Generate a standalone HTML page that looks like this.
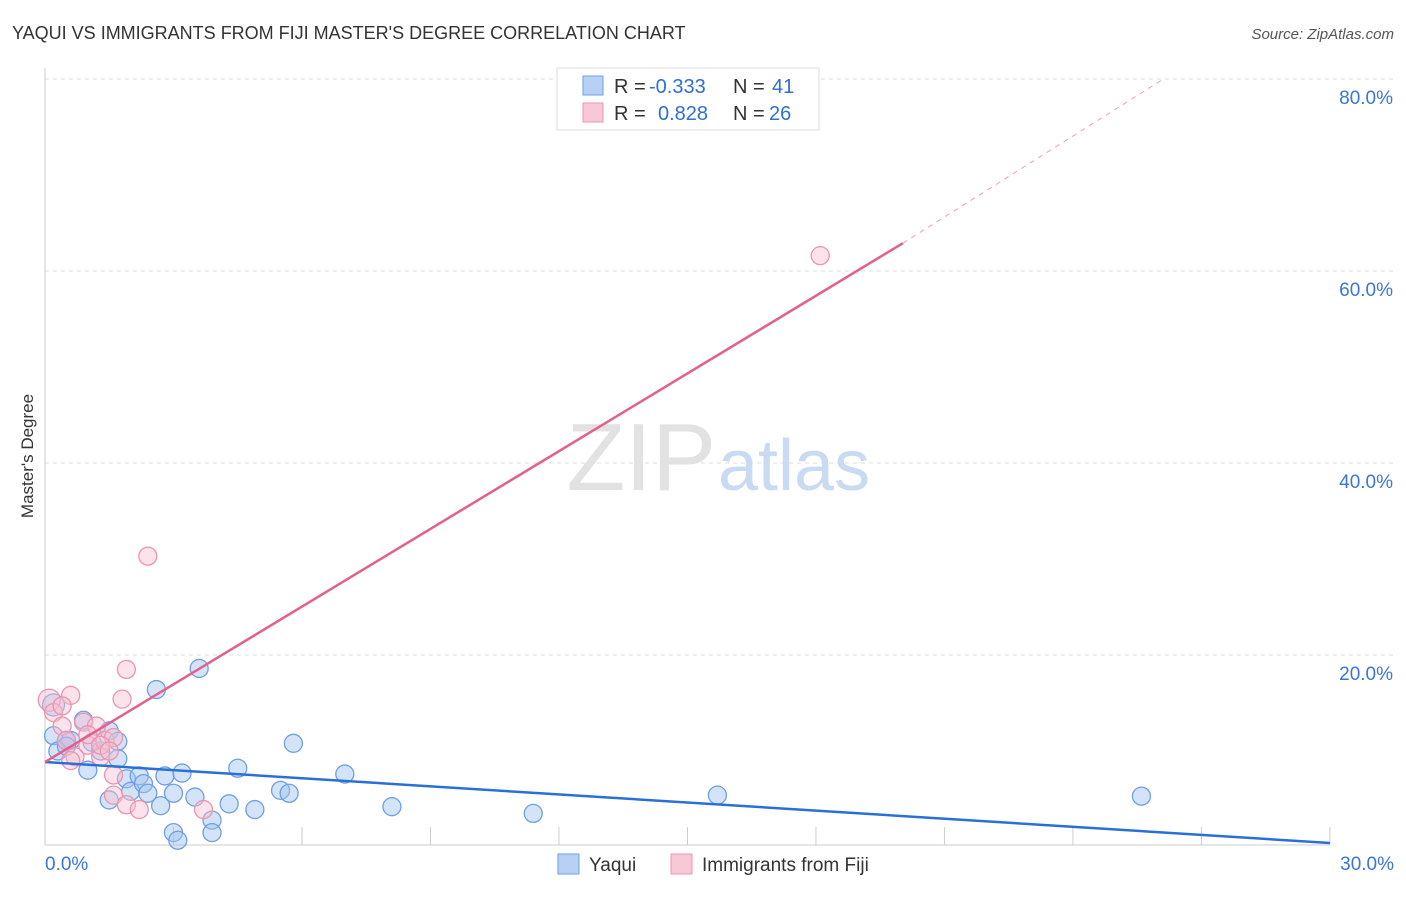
<!DOCTYPE html>
<html><head><meta charset="utf-8"><style>
body{margin:0;background:#fff;font-family:"Liberation Sans",sans-serif;}
svg text{font-family:"Liberation Sans",sans-serif;}
</style></head><body>
<svg id="c" width="1406" height="892" viewBox="0 0 1406 892" xmlns="http://www.w3.org/2000/svg">
<text x="12" y="39" font-size="18" fill="#333">YAQUI VS IMMIGRANTS FROM FIJI MASTER'S DEGREE CORRELATION CHART</text>
<text x="1394" y="39" font-size="15" fill="#555" font-style="italic" text-anchor="end">Source: ZipAtlas.com</text>
<text x="33" y="456" font-size="17" fill="#333" text-anchor="middle" transform="rotate(-90 33 456)">Master's Degree</text>
<g id="grid"></g>
<text x="716" y="490" font-size="96" fill="#e2e2e2" text-anchor="end" font-family="Liberation Serif">ZIP</text>
<text x="718" y="490" font-size="72" fill="#c9dbf2">atlas</text>
<g id="pts"></g>
<g id="lines"></g>
<g>
<rect x="557" y="68" width="262" height="62" fill="#fff" stroke="#ddd"/>
<rect x="583" y="76" width="20" height="19" fill="#b7d0f3" stroke="#6f9fe0"/>
<rect x="583" y="103" width="20" height="19" fill="#f9c8d7" stroke="#ec94b0"/>
<text x="614" y="93" font-size="20" fill="#333">R = <tspan x="649" fill="#2f6fd6">-0.333</tspan><tspan x="733">N = </tspan><tspan x="772" fill="#2f6fd6">41</tspan></text>
<text x="614" y="120" font-size="20" fill="#333">R = <tspan x="658" fill="#2f6fd6">0.828</tspan><tspan x="733">N = </tspan><tspan x="769" fill="#2f6fd6">26</tspan></text>
</g>
<g>
<rect x="558" y="854" width="21" height="20" fill="#b7d0f3" stroke="#6f9fe0"/>
<text x="589" y="871" font-size="19" fill="#333">Yaqui</text>
<rect x="671" y="854" width="21" height="20" fill="#f9c8d7" stroke="#ec94b0"/>
<text x="702" y="871" font-size="19" fill="#333">Immigrants from Fiji</text>
</g>
</svg>
<script>
const yTicks=[20,40,60,80];
const xTickLabels=["0.0%","30.0%"];
const yaquiX=[0.2,0.2,0.3,0.5,0.6,0.9,1.0,1.1,1.3,1.5,1.5,1.7,1.7,1.9,2.0,2.2,2.3,2.4,2.6,2.7,2.8,3.0,3.0,3.1,3.2,3.5,3.6,3.9,3.9,4.3,4.5,4.9,5.5,5.7,5.8,7.0,8.1,11.4,15.7,25.6,0.5];
const yaquiY=[14.8,11.6,10.0,11.1,11.1,13.2,8.0,10.9,10.0,12.1,4.9,11.0,9.2,7.1,5.8,7.4,6.6,5.6,16.4,4.3,7.4,1.5,5.6,0.7,7.7,5.2,18.6,2.8,1.5,4.5,8.2,3.9,5.9,5.6,10.8,7.6,4.2,3.5,5.4,5.3,10.5];
const fijiX=[0.1,0.2,0.4,0.6,0.7,0.9,1.0,1.2,1.3,1.4,1.6,1.6,1.6,1.8,1.9,1.9,2.2,2.4,3.7,18.1,0.5,1.0,0.4,1.3,0.6,1.5];
const fijiY=[15.3,14.0,12.6,15.8,9.4,13.0,10.6,12.6,9.4,11.1,11.4,7.5,5.4,15.4,18.5,4.4,3.9,30.3,3.9,61.6,11.1,11.7,14.7,10.6,9.0,10.0];
const yaquiTrend=[[0,8.85],[30,0.42]];
const fijiTrend=[[0,8.85],[20.03,62.9]];
const fijiDash=[[20.03,62.9],[26.15,80.1]];
const X=v=>45+v*42.83, Y=v=>847-v*9.6;
const NS="http://www.w3.org/2000/svg";
function mk(t,a,p){const e=document.createElementNS(NS,t);for(const k in a)e.setAttribute(k,a[k]);p.appendChild(e);return e;}
const g=document.getElementById('grid');
yTicks.forEach(t=>{
 const l=mk('line',{x1:45,x2:1394,y1:Y(t),y2:Y(t),stroke:'#ddd','stroke-dasharray':'4,4'},g);
 
 
 const tx=mk('text',{x:1393,y:Y(t)+25,'font-size':19,fill:'#3a76d6','text-anchor':'end'},g);
 tx.textContent=t.toFixed(1)+'%';
 
 
});
const ax=mk('line',{x1:45,x2:45,y1:68,y2:845,stroke:'#ccc'},g);


const bx=mk('line',{x1:45,x2:1330,y1:845,y2:845,stroke:'#ccc'},g);


for(let i=1;i<=10;i++){const t=mk('line',{x1:X(i*3),x2:X(i*3),y1:827,y2:845,stroke:'#ccc'},g);
 
 }
[[45,'start',xTickLabels[0]],[1394,'end',xTickLabels[1]]].forEach(([x,a,s])=>{const t=mk('text',{x:x,y:870,'font-size':19,fill:'#3a76d6','text-anchor':a},g);t.textContent=s;
 
 });
const p=document.getElementById('pts');
yaquiX.forEach((x,i)=>{const c=mk('circle',{cx:X(x),cy:Y(yaquiY[i]),r:i==0?11:9,fill:'rgba(160,195,240,0.45)',stroke:'#6f9fe0','stroke-width':1.3},p);
 
 });
fijiX.forEach((x,i)=>{const c=mk('circle',{cx:X(x),cy:Y(fijiY[i]),r:i==0?11:9,fill:'rgba(248,190,208,0.45)',stroke:'#ec94b0','stroke-width':1.3},p);
 
 });
const L=document.getElementById('lines');
function ln(d,col,w,dash,name){const e=mk('line',{x1:X(d[0][0]),y1:Y(d[0][1]),x2:X(d[1][0]),y2:Y(d[1][1]),stroke:col,'stroke-width':w},L);if(dash)e.setAttribute('stroke-dasharray',dash);
 
 }
ln(yaquiTrend,'#2a6fd8',2.5,null,'yaqui-trend-line');
ln(fijiTrend,'#e4608c',2.5,null,'fiji-trend-line');
ln(fijiDash,'#eaa0b8',1,'5,5','fiji-trend-extension');
</script>
</body></html>
